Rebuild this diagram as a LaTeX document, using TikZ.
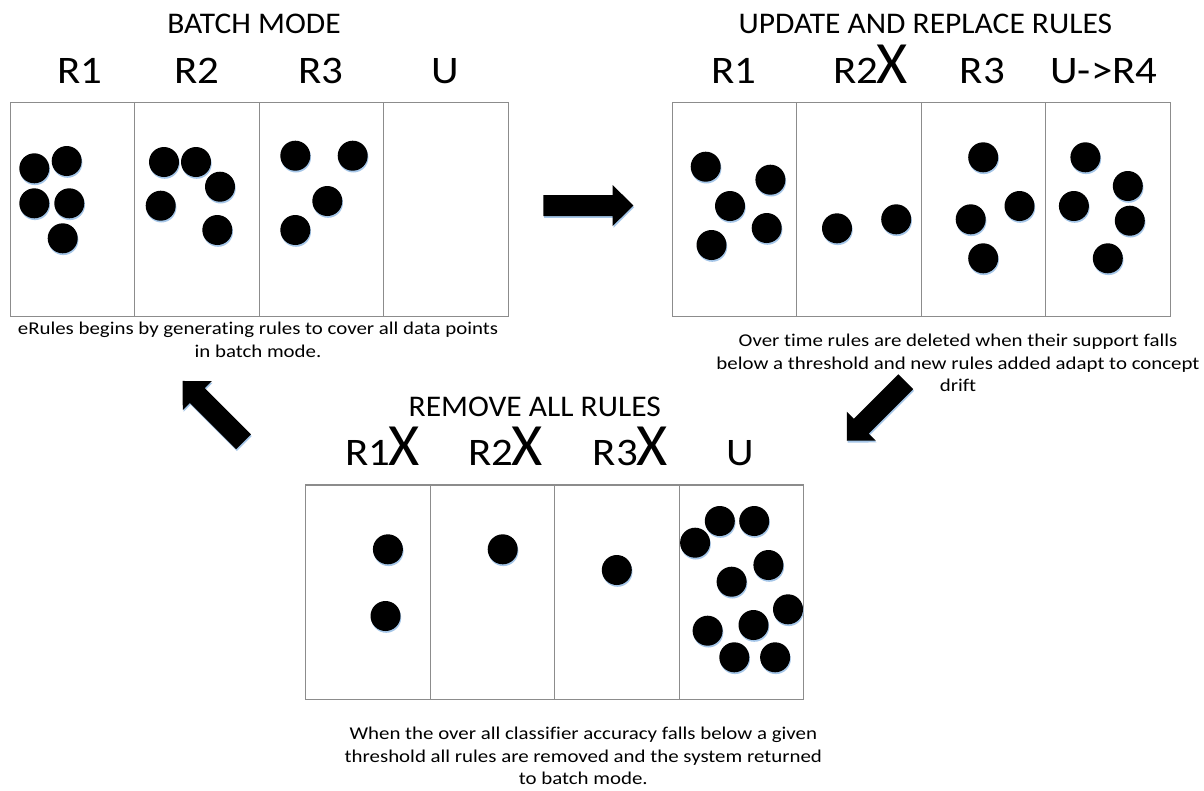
\documentclass[tikz,border=0pt]{standalone}
\usepackage{fontspec}
\setmainfont{Carlito}[Ligatures=NoCommon]
\newfontfamily\capfont{Carlito}[FakeStretch=1.16,Ligatures=NoCommon]
\newfontfamily\labfont{Carlito}[FakeStretch=1.1,Ligatures=NoCommon]
\newfontfamily\ttlfont{Carlito}[FakeStretch=1.05,Ligatures=NoCommon]
\usetikzlibrary{shadows}
\definecolor{shadowblue}{RGB}{165,198,232}
\definecolor{boxgray}{RGB}{140,140,140}
\newcommand\blockarrow[4]{%
  \begin{scope}[shift={(#1+0.8,#2+1.8)},rotate=#3]
    \fill[shadowblue] (0,-10.5) -- ({#4-20.6},-10.5) -- ({#4-20.6},-20.5) -- (#4,0) -- ({#4-20.6},20.5) -- ({#4-20.6},10.5) -- (0,10.5) -- cycle;
  \end{scope}
  \begin{scope}[shift={(#1,#2)},rotate=#3]
    \fill[black] (0,-10.5) -- ({#4-20.6},-10.5) -- ({#4-20.6},-20.5) -- (#4,0) -- ({#4-20.6},20.5) -- ({#4-20.6},10.5) -- (0,10.5) -- cycle;
  \end{scope}}
\tikzset{
  col/.style={draw=boxgray, line width=1.1pt, minimum width=124.5pt, minimum height=214.5pt, inner sep=0pt, anchor=north west},
  dot/.style={circle, fill=black, minimum size=30pt, inner sep=0pt,
    drop shadow={shadow xshift=0.7pt, shadow yshift=-1.8pt, fill=shadowblue, opacity=1}},
  lab/.style={font=\labfont\fontsize{39}{39}\selectfont, anchor=base, inner sep=0pt},
  cross/.style={font=\fontsize{60}{60}\selectfont, anchor=base west, inner sep=0pt, xshift=-2pt},
  ttl/.style={font=\ttlfont\fontsize{30}{30}\selectfont, anchor=base, inner sep=0pt},
  captext/.style={font=\capfont\fontsize{18}{22.8}\selectfont, align=center, anchor=north, inner sep=0pt}
}
\begin{document}
\begin{tikzpicture}[x=1pt,y=-1pt]
\useasboundingbox (0,0) rectangle (1204,790);
\fill[white] (0,0) rectangle (1204,790);

% ---------- Panel 1: batch mode
\node[ttl] (t1) at (254,33.3) {BATCH MODE};
\foreach \i/\x in {1/9.5,2/134,3/258.5,4/383}
  \node[col] (a\i) at (\x,101.6) {};
\node[lab] (a1l) at (80,83.3) {R1};
\node[lab] (a2l) at (196.7,83.3) {R2};
\node[lab] (a3l) at (321.2,83.3) {R3};
\node[lab] (a4l) at (445,83.3) {U};
\foreach \p [count=\i] in {(34.3,168.3),(66.7,161),(34.3,203.3),(69.3,203.3),(62.7,238.3),
  (164,162),(196,162),(220,186.7),(160.7,205.7),(217.3,230),
  (295.3,155.7),(352.7,155.7),(327.3,201),(295.3,230)}
  \node[dot] (da\i) at \p {};
\node[captext] (c1) at (258,322) {eRules begins by generating rules to cover all data points\\in batch mode.};

% ---------- Panel 2: update and replace
\node[ttl] (t2) at (925.3,33.3) {UPDATE AND REPLACE RULES};
\foreach \i/\x in {1/671.6,2/796.1,3/920.6,4/1045.1}
  \node[col] (b\i) at (\x,101.6) {};
\node[lab] (b1l) at (733.6,83.3) {R1};
\node[lab] (b2l) at (856,83.3) {R2};
\node[cross] (b2x) at (b2l.base east) {X};
\node[lab] (b3l) at (982.5,83.3) {R3};
\node[lab] (b4l) at (1103.9,83.3) {U->R4};
\foreach \p [count=\i] in {(705.7,166.7),(770.4,179.7),(730,206),(766.7,228),(711.5,245),
  (837,228.3),(896.2,219.3),
  (983.2,157.3),(970.7,219.3),(1019.5,206),(983.2,258.3),
  (1085.4,157.3),(1127.8,186),(1073.9,206),(1129.8,220.7),(1107.8,258.3)}
  \node[dot] (db\i) at \p {};
\node[captext] (c2) at (958,333.5) {Over time rules are deleted when their support falls\\below a threshold and new rules added adapt to concept\\drift};

% ---------- Panel 3: remove all rules
\node[ttl] (t3) at (534.8,416.7) {REMOVE ALL RULES};
\foreach \i/\x in {1/305.2,2/429.7,3/554.2,4/678.7}
  \node[col] (e\i) at (\x,484.4) {};
\node[lab] (e1l) at (368,465) {R1};
\node[cross] (e1x) at (e1l.base east) {X};
\node[lab] (e2l) at (490.9,465) {R2};
\node[cross] (e2x) at (e2l.base east) {X};
\node[lab] (e3l) at (615.5,465) {R3};
\node[cross] (e3x) at (e3l.base east) {X};
\node[lab] (e4l) at (740,465) {U};
\foreach \p [count=\i] in {(387.9,549.3),(385.5,616),(502.7,549.3),(616.8,570),
  (719.8,521),(754.2,521),(695.1,542.7),(768.4,565),(731.6,581.7),(788,609.3),
  (707.6,630.7),(753.5,625),(734.3,657.3),(775.1,657.3)}
  \node[dot] (de\i) at \p {};
\node[captext] (c3) at (583.3,726.5) {When the over all classifier accuracy falls below a given\\threshold all rules are removed and the system returned\\to batch mode.};

% ---------- block arrows
\blockarrow{543.3}{205.5}{0}{90}
\blockarrow{243.5}{441.8}{135}{86}
\blockarrow{905.8}{381.7}{225}{83.5}
\end{tikzpicture}
\end{document}
